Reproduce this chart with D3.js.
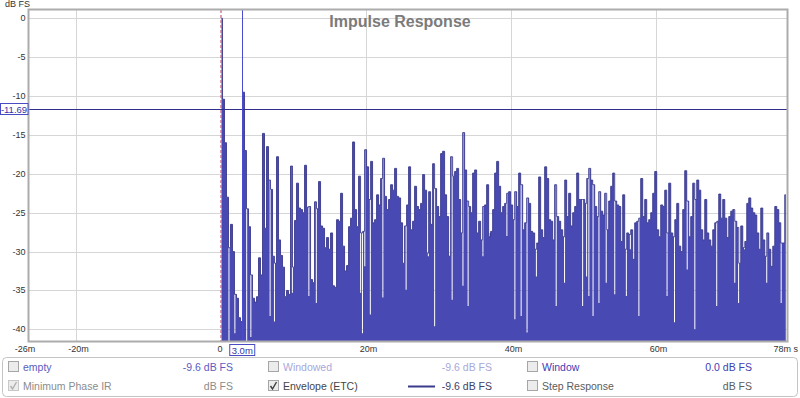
<!DOCTYPE html>
<html>
<head>
<meta charset="utf-8">
<script src="https://cdn.jsdelivr.net/npm/d3@7"></script>
<style>
html, body { margin: 0; padding: 0; background: #fff; }
svg { display: block; font-family: "Liberation Sans", Arial, sans-serif; }
</style>
</head>
<body>
<svg id="chart"></svg>
<script>
// ETC envelope, dB FS, one value every STEP_MS starting at t = 0
const STEP_MS = 0.276;
const etc0to15 = [
	0, -10.4, -16, -23, -29.5, -26.5, -30, -35.5, -36, -38.5,
	-39, -9.5, -17, -24.5, -26.8, -33, -36, -36.5, -35.8, -30.8,
	-33, -14.8, -27, -16.5, -20.8, -22, -30.6, -31.5, -17.8, -28.5,
	-30.5, -32, -35.8, -35, -35.5, -19, -32, -26, -21.2, -24.4,
	-24.6, -25, -18.9, -24.3, -24.2, -33.6, -34, -23.6, -24.5, -21,
	-26.7, -27, -29.5, -28.2, -29.7
];
const etc15to30 = [
	-27.6, -34.4, -34.6, -25.9, -26.1, -22.5, -29.3, -32.5, -31.8, -26.8,
	-25.7, -15.9, -24.6, -26.8, -20.3, -27.6, -27.4, -16.9, -19.1, -23.3,
	-18.4, -26.3, -25.9, -22.7, -24, -20.6, -18, -22.9, -24.6, -23.3,
	-21.4, -22.1, -19.3, -22.9, -23.1, -26.3, -31.5, -26.7, -24, -19.1,
	-27.2, -26.1, -21.6, -24.2, -24.6, -23.8, -20.1, -22.1, -30.2, -22.3,
	-26.5, -18.7, -21.9, -24.2, -25.5, -17.4
];
const etc30to46 = [
	-17.1, -22.7, -25.5, -30.6, -17.8, -20.3, -19.7, -19.3, -23.3, -27.6,
	-14.7, -19.5, -23.5, -24.2, -25, -19.9, -19.5, -27.6, -26.1, -28.5,
	-24.2, -24, -21.4, -28.1, -27.4, -24.6, -19.9, -18.4, -21.6, -25,
	-24.2, -23.8, -22.5, -22.3, -24, -25.9, -22.3, -24.2, -19.9, -21.4,
	-27.2, -26.3, -23.1, -23.8, -27.4, -27.6, -29.7, -28.9, -20.4, -27.2,
	-28.2, -19.1, -20.6, -25.9, -26.1, -28.5, -21.4
];
const etc46to62 = [
	-25.5, -26.1, -27.2, -28.1, -20.8, -25.5, -22.5, -26.7, -25, -24.2,
	-19.9, -23.3, -23.3, -23.3, -23.8, -20.6, -19.3, -20.8, -21.4, -24.2,
	-25.5, -22.3, -24.8, -25.3, -22.5, -27.2, -23.5, -21.6, -19.9, -23.5,
	-24, -24.2, -28.7, -22.7, -29.7, -27.6, -27.8, -27.2, -31, -26.3,
	-26.1, -25.7, -20.6, -25.5, -23.3, -26.3, -25.9, -25, -22.5, -19.7,
	-27.2, -28.1, -24, -24.2, -22.1, -27.6
];
const etc62to78 = [
	-21.2, -27.6, -28.1, -25.9, -23.8, -29.3, -30, -24.6, -19.6, -23.5,
	-28.1, -25.5, -21.2, -23.3, -20.8, -22.1, -27.2, -28.5, -23.3, -27.6,
	-28.5, -29.3, -27.2, -26.3, -26.1, -22.6, -25.7, -23.3, -25.7, -28.2,
	-25.5, -24.8, -24.6, -26.1, -26.9, -31.5, -26.7, -29.5, -28.7, -23.8,
	-23.1, -24.4, -25, -25.3, -27.6, -29.7, -24.4, -28.5, -30.6, -27.6,
	-29.7, -31.9, -29.3, -24.2, -24.6, -26.3, -28.9, -28.9, -22.7
];
// narrow troughs between the peaks: [ms, dB FS]
const etcDips = [
	[1.1, -41.5], [1.9, -40.5], [3.5, -41.5], [4.1, -41], [6.65, -38.3], [7.3, -39],
	[9.76, -35.3], [12.1, -35.7], [13.05, -36.6], [19.2, -35.3], [19.43, -40.5],
	[19.8, -31.9], [20.5, -38.1], [22.3, -35.9], [25.4, -34.9], [28.5, -30.6],
	[29.4, -39.6], [31.75, -36.2], [33.35, -34.4], [33.95, -37], [36.1, -30.6],
	[37.0, -27.6], [39.4, -28], [40.5, -38.7], [41.4, -38.3], [42.2, -40.4],
	[43.4, -33.2], [46.1, -37], [47.3, -34], [49.8, -37], [50.35, -33.2],
	[50.7, -35.7], [51.3, -38.3], [52.1, -36.6], [53.0, -34], [54.25, -35.5],
	[55.8, -35.7], [56.35, -29.7], [57.6, -38.3], [61.5, -35.7], [62.45, -39.1],
	[64.3, -32.3], [65.3, -40], [68.3, -37], [70.8, -34], [71.3, -36.6],
	[72.1, -29.7], [75.2, -34], [77.25, -36.6]
];

const dbTicks = [0, -5, -10, -15, -20, -25, -30, -35, -40];
const msTicks = [-20, 0, 20, 40, 60];
const msDomain = [-26.55, 78];
const msEdgeLabels = ["-26m", "78m s"];
const dbDomain = [1.07, -41.5];
const cursorDb = -11.69;
const cursorMs = 3.0;

const legendRows = [
	[
		{ label: "empty", value: "-9.6 dB FS", color: "#5c5cc0", valueColor: "#5c5cc0", checked: false },
		{ label: "Windowed", value: "-9.6 dB FS", color: "#a8a8dc", valueColor: "#a8a8dc", checked: false },
		{ label: "Window", value: "0.0 dB FS", color: "#4040b4", valueColor: "#4040b4", checked: false }
	],
	[
		{ label: "Minimum Phase IR", value: "dB FS", color: "#8c8c8c", valueColor: "#8c8c8c", checked: true, dim: true },
		{ label: "Envelope (ETC)", value: "-9.6 dB FS", color: "#454545", valueColor: "#40406a", checked: true, swatch: true },
		{ label: "Step Response", value: "dB FS", color: "#5c5c5c", valueColor: "#5c5c5c", checked: false }
	]
];

const width = 800, height = 398;
const plot = { left: 29, right: 787, top: 10, bottom: 341 };

const svg = d3.select("#chart")
	.attr("width", width)
	.attr("height", height);

const x = d3.scaleLinear(msDomain, [plot.left, plot.right]);
const y = d3.scaleLinear(dbDomain, [plot.top, plot.bottom]);

svg.append("defs").append("clipPath")
	.attr("id", "plotClip")
	.append("rect")
	.attr("x", plot.left).attr("y", plot.top)
	.attr("width", plot.right - plot.left)
	.attr("height", plot.bottom - plot.top);

// grid
const grid = svg.append("g").attr("stroke", "#d6d6d6").attr("stroke-width", 1);
grid.selectAll("line.h").data(dbTicks).join("line")
	.attr("class", "h")
	.attr("x1", plot.left).attr("x2", plot.right)
	.attr("y1", d => Math.round(y(d)) + 0.5).attr("y2", d => Math.round(y(d)) + 0.5);
grid.selectAll("line.v").data(msTicks.filter(d => d !== 0)).join("line")
	.attr("class", "v")
	.attr("y1", plot.top).attr("y2", plot.bottom)
	.attr("x1", d => Math.round(x(d)) + 0.5).attr("x2", d => Math.round(x(d)) + 0.5);

// envelope
const samples = [etc0to15, etc15to30, etc30to46, etc46to62, etc62to78].flat()
	.map((v, i) => ({ t: i * STEP_MS, db: v }));
const points = samples.concat(etcDips.map(d => ({ t: d[0], db: d[1] })))
	.sort((a, b) => a.t - b.t);

const plotArea = svg.append("g").attr("clip-path", "url(#plotClip)");

plotArea.append("path")
	.datum(points)
	.attr("fill", "#4949b4")
	.attr("d", d3.area()
		.curve(d3.curveStep)
		.x(d => x(d.t))
		.y0(y(dbDomain[1]))
		.y1(d => y(d.db)));

// darker outline on the peaks only, so the troughs stay light
plotArea.append("path")
	.datum(samples)
	.attr("fill", "none")
	.attr("stroke", "#3a3a8c")
	.attr("stroke-width", 0.9)
	.attr("d", d3.line()
		.curve(d3.curveStep)
		.x(d => x(d.t))
		.y(d => y(d.db)));

// t = 0 marker
plotArea.append("line")
	.attr("x1", x(0) - 0.5).attr("x2", x(0) - 0.5)
	.attr("y1", plot.top).attr("y2", plot.bottom)
	.attr("stroke", "#c8607a")
	.attr("stroke-width", 1.2)
	.attr("stroke-dasharray", "3,2");

// cursors
plotArea.append("line")
	.attr("x1", plot.left).attr("x2", plot.right)
	.attr("y1", Math.round(y(cursorDb)) + 0.5).attr("y2", Math.round(y(cursorDb)) + 0.5)
	.attr("stroke", "#30308a")
	.attr("stroke-width", 1);

plotArea.append("line")
	.attr("x1", Math.round(x(cursorMs)) - 0.5).attr("x2", Math.round(x(cursorMs)) - 0.5)
	.attr("y1", plot.top).attr("y2", plot.bottom)
	.attr("stroke", "#4b4bd0")
	.attr("stroke-width", 1);

// frame
svg.append("rect")
	.attr("x", plot.left - 0.5).attr("y", plot.top - 0.5)
	.attr("width", plot.right - plot.left + 1)
	.attr("height", plot.bottom - plot.top + 1)
	.attr("fill", "none")
	.attr("stroke", "#acacac")
	.attr("stroke-width", 2);

// title
svg.append("text")
	.attr("x", 400).attr("y", 27)
	.attr("text-anchor", "middle")
	.attr("font-size", 16)
	.attr("font-weight", "bold")
	.attr("fill", "#7b7b7b")
	.text("Impulse Response");

// y axis labels
svg.append("text")
	.attr("x", 5).attr("y", 7)
	.attr("font-size", 9)
	.attr("fill", "#333")
	.text("dB FS");

svg.append("g").selectAll("text").data(dbTicks).join("text")
	.attr("x", 25.5)
	.attr("y", d => y(d) + 3)
	.attr("text-anchor", "end")
	.attr("font-size", 9)
	.attr("fill", "#333")
	.text(d => d);

// x axis labels
svg.append("g").selectAll("text").data(msTicks).join("text")
	.attr("x", d => x(d) + (d === 0 ? -1.5 : 2))
	.attr("y", 352)
	.attr("text-anchor", "middle")
	.attr("font-size", 9)
	.attr("fill", "#333")
	.text(d => d === 0 ? "0" : d + "m");

svg.append("text")
	.attr("x", 25).attr("y", 352)
	.attr("text-anchor", "middle")
	.attr("font-size", 9)
	.attr("fill", "#333")
	.text(msEdgeLabels[0]);

svg.append("text")
	.attr("x", 798).attr("y", 352)
	.attr("text-anchor", "end")
	.attr("font-size", 9)
	.attr("fill", "#333")
	.text(msEdgeLabels[1]);

// cursor readouts
const dbBox = svg.append("g");
dbBox.append("rect")
	.attr("x", 0.5).attr("y", Math.round(y(cursorDb)) - 5.5)
	.attr("width", 27.5).attr("height", 11)
	.attr("fill", "#fff")
	.attr("stroke", "#4a4ac4");
dbBox.append("text")
	.attr("x", 14).attr("y", y(cursorDb) + 3.5)
	.attr("text-anchor", "middle")
	.attr("font-size", 9.5)
	.attr("fill", "#3434a8")
	.text(cursorDb.toFixed(2));

const msBox = svg.append("g");
msBox.append("rect")
	.attr("x", x(cursorMs) - 13.5).attr("y", 344.5)
	.attr("width", 25).attr("height", 11)
	.attr("fill", "#fff")
	.attr("stroke", "#4a4ac4");
msBox.append("text")
	.attr("x", x(cursorMs) - 1).attr("y", 353.5)
	.attr("text-anchor", "middle")
	.attr("font-size", 9.5)
	.attr("fill", "#3434a8")
	.text(cursorMs.toFixed(1) + "m");

// legend
const legend = svg.append("g");
legend.append("rect")
	.attr("x", 2.5).attr("y", 357.5)
	.attr("width", 795).attr("height", 39)
	.attr("rx", 4)
	.attr("fill", "#fff")
	.attr("stroke", "#c4c4c4");

const colX = [8, 268, 527];
const valueX = [233, 492, 752];
const rowY = [367, 386];

legendRows.forEach((row, r) => {
	row.forEach((item, c) => {
		const g = legend.append("g");
		const cy = rowY[r];
		g.append("rect")
			.attr("x", colX[c] + 0.5).attr("y", cy - 5.5)
			.attr("width", 10).attr("height", 10)
			.attr("fill", "#ececec")
			.attr("stroke", item.dim ? "#c8c8c8" : "#a6a6a6");
		if (item.checked) {
			g.append("path")
				.attr("d", `M${colX[c] + 2.5},${cy} L${colX[c] + 4.5},${cy + 3} L${colX[c] + 8.5},${cy - 4}`)
				.attr("fill", "none")
				.attr("stroke", item.dim ? "#b0b0b0" : "#3c3c3c")
				.attr("stroke-width", 1.4);
		}
		g.append("text")
			.attr("x", colX[c] + 15).attr("y", cy + 3.5)
			.attr("font-size", 10.5)
			.attr("fill", item.color)
			.text(item.label);
		g.append("text")
			.attr("x", valueX[c]).attr("y", cy + 3.5)
			.attr("text-anchor", "end")
			.attr("font-size", 10.5)
			.attr("fill", item.valueColor)
			.text(item.value);
		if (item.swatch) {
			g.append("line")
				.attr("x1", 408).attr("x2", 435)
				.attr("y1", cy + 0.5).attr("y2", cy + 0.5)
				.attr("stroke", "#3a3a8c")
				.attr("stroke-width", 2);
		}
	});
});
</script>
</body>
</html>
